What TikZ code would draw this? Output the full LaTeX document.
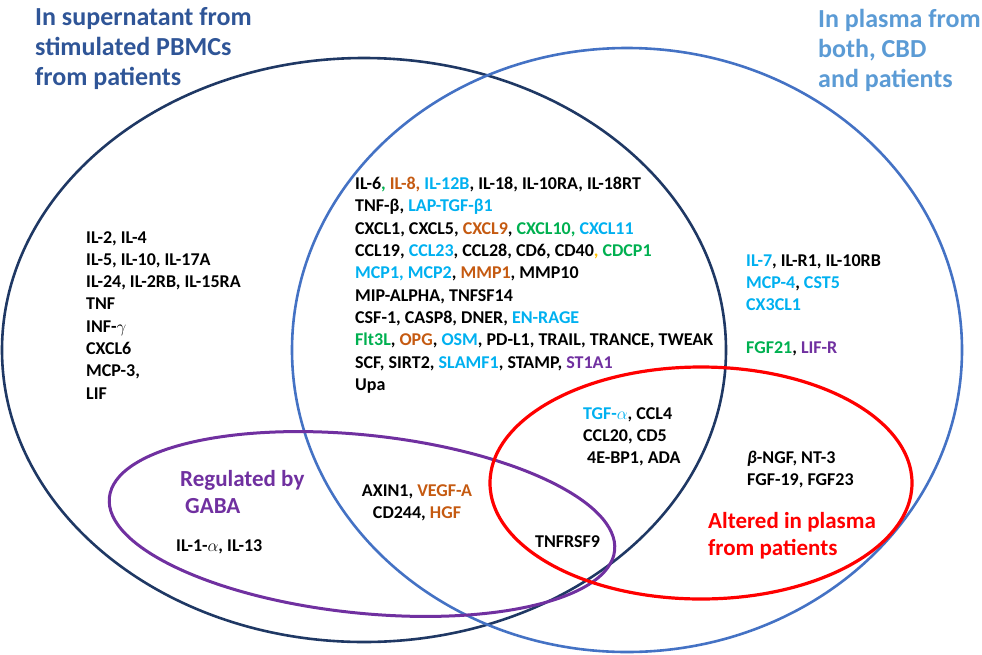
\documentclass[tikz,border=0pt]{standalone}
\usepackage{amsmath}
\usepackage{fontspec}
\setmainfont{Carlito}
\usepackage{tikz}
\definecolor{navyline}{HTML}{1F3864}
\definecolor{navytext}{HTML}{2F5597}
\definecolor{blueline}{HTML}{4472C4}
\definecolor{bluetext}{HTML}{5B9BD5}
\definecolor{cyanx}{HTML}{00B0F0}
\definecolor{orangex}{HTML}{C55A11}
\definecolor{greenx}{HTML}{00B050}
\definecolor{purplex}{HTML}{7030A0}
\definecolor{goldx}{HTML}{FFC000}
\definecolor{redx}{HTML}{FF0000}
\newcommand{\tcyan}[1]{\textcolor{cyanx}{#1}}
\newcommand{\torange}[1]{\textcolor{orangex}{#1}}
\newcommand{\tgreen}[1]{\textcolor{greenx}{#1}}
\newcommand{\tpurple}[1]{\textcolor{purplex}{#1}}
\newcommand{\tgold}[1]{\textcolor{goldx}{#1}}

\begin{document}
\begin{tikzpicture}[x=1pt,y=-1pt]
			\tikzstyle{txt}=[inner sep=0pt,anchor=north west,align=left,font=\bfseries\fontsize{18}{22.3}\selectfont]
			\tikzstyle{head}=[inner sep=0pt,anchor=north west,align=left,font=\bfseries\fontsize{26}{30}\selectfont]
			\tikzstyle{tag}=[inner sep=0pt,anchor=north west,align=left,font=\bfseries\fontsize{23}{27.5}\selectfont]
			\useasboundingbox (0,0) rectangle (982,654);
			\draw[navyline,line width=2.6pt] (364,350) ellipse [x radius=362pt,y radius=292pt];
			\draw[blueline,line width=2.6pt] (627,350) ellipse [x radius=335pt,y radius=302pt];
			\draw[purplex,line width=3pt,rotate around={-6:(362,524)}] (362,524) ellipse [x radius=254pt,y radius=89pt];
			\draw[redx,line width=3.2pt] (701,483) ellipse [x radius=211pt,y radius=116pt];
			
			\node (sup)[head,text=navytext] at (35,7) {In supernatant from\\stimulated PBMCs\\from patients};
			\node (pla)[head,text=bluetext] at (818,9) {In plasma from\\both, CBD\\and patients};
			
			\node (lft)[txt] at (86,231) {IL-2, IL-4\\IL-5, IL-10, IL-17A\\IL-24, IL-2RB, IL-15RA\\TNF\\INF-$\gamma$\\CXCL6\\MCP-3,\\LIF};
			\node (mid)[txt] at (355,177) {IL-6\tgreen{,} \torange{IL-8,} \tcyan{IL-12B}, IL-18, IL-10RA, IL-18RT\\
				TNF-β, \tcyan{LAP-TGF-β1}\\
				CXCL1, CXCL5, \torange{CXCL9}, \tgreen{CXCL10,} \tcyan{CXCL11}\\
				CCL19, \tcyan{CCL23}, CCL28, CD6, CD40\tgold{,} \tgreen{CDCP1}\\
				\tcyan{MCP1, MCP2}, \torange{MMP1}, MMP10\\
				MIP-ALPHA, TNFSF14\\
				CSF-1, CASP8, DNER, \tcyan{EN-RAGE}\\
				\tgreen{Flt3L}, \torange{OPG}, \tcyan{OSM}, PD-L1, TRAIL, TRANCE, TWEAK\\
				SCF, SIRT2, \tcyan{SLAMF1}, STAMP, \tpurple{ST1A1}\\
				Upa};
			\node (rgt)[txt] at (746,254) {\tcyan{IL-7}, IL-R1, IL-10RB\\\tcyan{MCP-4}, \tcyan{CST5}\\\tcyan{CX3CL1}};
			\node (fgf)[txt] at (746,341) {\tgreen{FGF21}, \tpurple{LIF-R}};
			
			\node (red)[txt] at (583,407) {\tcyan{TGF-$\alpha$}, CCL4\\CCL20, CD5\\\hspace*{4pt}4E-BP1, ADA};
			\node (ngf)[txt] at (747,451) {\textit{β}-NGF, NT-3\\FGF-19, FGF23};
			\node (alt)[tag,text=redx] at (708,512) {Altered in plasma\\from patients};
			\node (tnfr)[txt] at (535,535) {TNFRSF9};
			\node (axin)[txt,anchor=north,align=center] at (417,484) {AXIN1, \torange{VEGF-A}\\CD244, \torange{HGF}};
			\node (gaba)[tag,text=purplex] at (180,470) {Regulated by\\\hspace*{5pt}GABA};
			\node (il)[txt] at (176,539) {IL-1-$\alpha$, IL-13};
		\end{tikzpicture}
\end{document}
